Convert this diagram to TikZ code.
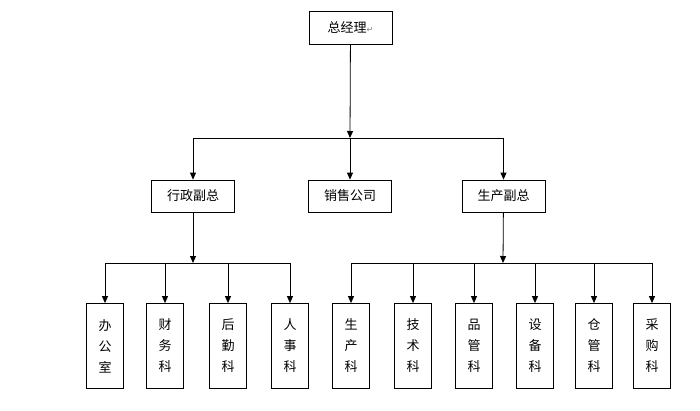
\documentclass[tikz,border=0pt]{standalone}
\usepackage{fontspec}
\setmainfont{Noto Sans CJK SC}
\newfontfamily\symfont{DejaVu Sans}
\usetikzlibrary{positioning, arrows.meta, calc}
\tikzset{
  head/.style  = {rectangle, draw=black, line width=0.8pt, fill=white,
                  minimum width=83pt, minimum height=33pt, inner sep=0pt,
                  font=\fontsize{13}{16}\selectfont},
  dept/.style  = {rectangle, draw=black, line width=0.8pt, fill=white,
                  minimum width=37pt, minimum height=85pt, inner sep=0pt,
                  align=center, font=\fontsize{13}{21}\selectfont},
  link/.style  = {line width=0.8pt, -{Triangle[length=7pt,width=6pt]}},
}

\begin{document}
\begin{tikzpicture}[x=1pt, y=-1pt]
\useasboundingbox (0,0) rectangle (700,410);

% Top level
\node (gm) [head] at (350.5,27.5) {总经理{\symfont\fontsize{8}{8}\selectfont\color{gray}↵}};

% Second level
\node (admin) [head, minimum height=32pt] at (193,196) {行政副总};
\node (sales) [head, minimum height=32pt] at (350,196) {销售公司};
\node (prod)  [head, minimum height=32pt] at (503.5,196) {生产副总};

% Departments under admin
\node (office)  [dept] at (105,346) {办\\公\\室};
\node (finance) [dept] at (165,346) {财\\务\\科};
\node (logist)  [dept] at (228,346) {后\\勤\\科};
\node (hr)      [dept] at (290,346) {人\\事\\科};

% Departments under production
\node (make)    [dept] at (351,346) {生\\产\\科};
\node (tech)    [dept] at (413,346) {技\\术\\科};
\node (quality) [dept] at (474,346) {品\\管\\科};
\node (equip)   [dept] at (535,346) {设\\备\\科};
\node (store)   [dept] at (594,346) {仓\\管\\科};
\node (buy)     [dept] at (652,346) {采\\购\\科};

% Bus junctions
\coordinate (hub0) at (350,138);
\coordinate (hub1) at (193,263);
\coordinate (hub2) at (503,263);

% Flows
\draw [link] (gm) -- (hub0);
\draw [link] (hub0) -| (admin);
\draw [link] (hub0) -- (sales);
\draw [link] (hub0) -| (prod);

\draw [link] (admin) -- (hub1);
\foreach \d in {office, finance, logist, hr}
  \draw [link] (hub1) -| (\d);

\draw [link] (prod) -- (hub2);
\foreach \d in {make, tech, quality, equip, store, buy}
  \draw [link] (hub2) -| (\d);

\end{tikzpicture}
\end{document}
